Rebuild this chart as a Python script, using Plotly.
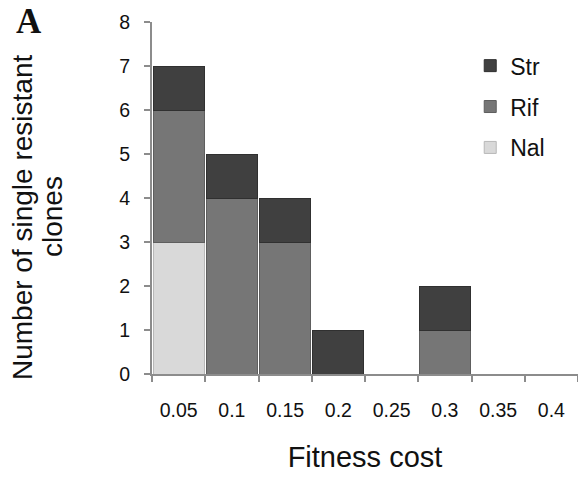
import plotly.graph_objects as go

categories = ["0.05", "0.1", "0.15", "0.2", "0.25", "0.3", "0.35", "0.4"]
nal = [3, 0, 0, 0, 0, 0, 0, 0]
rif = [3, 4, 3, 0, 0, 1, 0, 0]
stre = [1, 1, 1, 1, 0, 1, 0, 0]
y_ticks = [0, 1, 2, 3, 4, 5, 6, 7, 8]

FONT = "Liberation Sans, Arial, sans-serif"

fig = go.Figure()
series = [
    ("Nal", nal, "#d9d9d9", "#b8b8b8", 3),
    ("Rif", rif, "#767676", "#5e5e5e", 2),
    ("Str", stre, "#404040", "#303030", 1),
]
for name, vals, fill, edge, rank in series:
    fig.add_trace(go.Bar(
        x=categories, y=vals, name=name, legendgroup=name, legendrank=rank,
        marker=dict(color=fill, line=dict(color=edge, width=1)),
    ))

fig.update_layout(
    width=578, height=480,
    barmode="stack", bargap=0.04,
    plot_bgcolor="white", paper_bgcolor="white",
    margin=dict(l=152, r=0, t=22, b=106),
    font=dict(family=FONT, color="#111111"),
    showlegend=True,
    legend=dict(
        x=0.747, y=0.937, xanchor="left", yanchor="top",
        traceorder="grouped", tracegroupgap=8,
        font=dict(size=23, family=FONT, color="#111111"),
        bgcolor="rgba(0,0,0,0)",
    ),
    xaxis=dict(
        type="category", categoryorder="array", categoryarray=categories,
        range=[-0.5, 7.5],
        showline=True, linecolor="#8c8c8c", linewidth=2,
        ticks="outside", tickson="boundaries", ticklen=6, tickcolor="#8c8c8c", tickwidth=1.5,
        tickfont=dict(size=19.5, family=FONT, color="#111111"),
        ticklabelstandoff=18,
        showgrid=False, zeroline=False,
        title=dict(text="Fitness cost", font=dict(size=29, family=FONT, color="#111111"), standoff=26),
    ),
    yaxis=dict(
        range=[0, 8], tickvals=y_ticks,
        showline=True, linecolor="#8c8c8c", linewidth=2,
        ticks="outside", ticklen=6, tickcolor="#8c8c8c", tickwidth=1.5,
        tickfont=dict(size=19.5, family=FONT, color="#111111"),
        ticklabelstandoff=10,
        showgrid=False, zeroline=False,
    ),
    annotations=[
        dict(text="Number of single resistant", textangle=-90,
             xref="paper", yref="paper", x=-0.3052, y=0.446,
             xanchor="center", yanchor="middle", showarrow=False,
             font=dict(size=28, family=FONT, color="#111111")),
        dict(text="clones", textangle=-90,
             xref="paper", yref="paper", x=-0.2347, y=0.446,
             xanchor="center", yanchor="middle", showarrow=False,
             font=dict(size=28, family=FONT, color="#111111")),
        dict(text="<b>A</b>", xref="paper", yref="paper", x=-0.2887, y=1.06,
             xanchor="center", yanchor="top", showarrow=False, borderpad=0,
             font=dict(size=35, family="Liberation Serif, Times New Roman, serif", color="#111111")),
    ],
)

fig.write_html(
    "out.html",
    config={"displayModeBar": False},
    post_script="document.body.style.margin='0';document.body.style.overflow='hidden';",
)
